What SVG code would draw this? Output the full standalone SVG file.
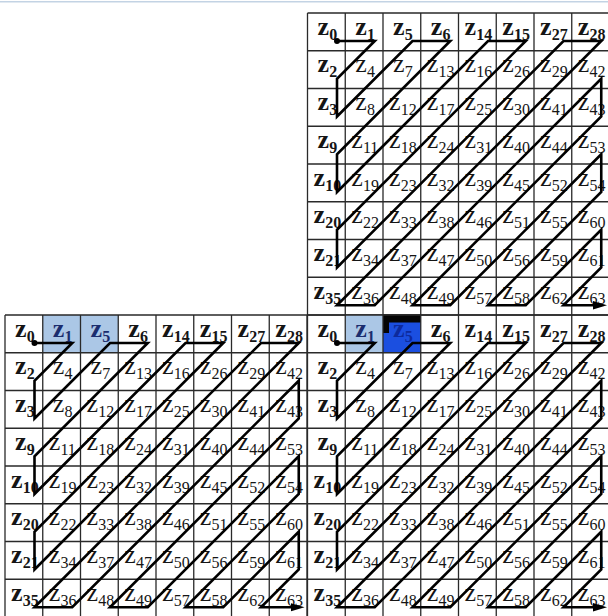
<svg xmlns="http://www.w3.org/2000/svg" width="608" height="616" viewBox="0 0 608 616">
<style>
text{font-family:"Liberation Serif","Times New Roman",serif;font-size:26px;fill:#151515}
text tspan{font-size:16px}
.b{font-weight:bold}
.nv{fill:#1b2d6e}
.dk{fill:#0d2a9c}
.grid{fill:none;stroke:#2a2a2a;stroke-width:1.3}
.zz{fill:none;stroke:#000;stroke-width:2.6;stroke-linejoin:miter;stroke-miterlimit:10}
.hl{fill:#abc7e6}
.hd{fill:#1b4fe0}
</style>
<defs>
<marker id="ah" viewBox="0 0 14 10" refX="6" refY="5" markerWidth="14" markerHeight="10" markerUnits="userSpaceOnUse" orient="auto"><path d="M0,0.8L14,5L0,9.2z" fill="#000"/></marker>
<path id="gl" d="M0,0H302M0,37.75H302M0,75.5H302M0,113.25H302M0,151H302M0,188.75H302M0,226.5H302M0,264.25H302M0,302H302M0,0V302M37.75,0V302M75.5,0V302M113.25,0V302M151,0V302M188.75,0V302M226.5,0V302M264.25,0V302M302,0V302"/>
</defs>
<rect width="608" height="616" fill="#fff"/>
<line x1="0" y1="1.8" x2="608" y2="1.8" stroke="#c3d3e4" stroke-width="1.6"/>

<g id="gridA" transform="translate(307.5,13)">
<g id="A-z0"><text class="b" x="10.1" y="21.5">z<tspan dy="5">0</tspan></text></g>
<g id="A-z1"><text class="b" x="47.85" y="21.5">z<tspan dy="5">1</tspan></text></g>
<g id="A-z5"><text class="b" x="85.6" y="21.5">z<tspan dy="5">5</tspan></text></g>
<g id="A-z6"><text class="b" x="123.35" y="21.5">z<tspan dy="5">6</tspan></text></g>
<g id="A-z14"><text class="b" x="157.1" y="21.5">z<tspan dy="5">14</tspan></text></g>
<g id="A-z15"><text class="b" x="194.85" y="21.5">z<tspan dy="5">15</tspan></text></g>
<g id="A-z27"><text class="b" x="232.6" y="21.5">z<tspan dy="5">27</tspan></text></g>
<g id="A-z28"><text class="b" x="270.35" y="21.5">z<tspan dy="5">28</tspan></text></g>
<g id="A-z2"><text class="b" x="10.1" y="59.25">z<tspan dy="5">2</tspan></text></g>
<g id="A-z4"><text x="47.85" y="59.25">z<tspan dy="5">4</tspan></text></g>
<g id="A-z7"><text x="85.6" y="59.25">z<tspan dy="5">7</tspan></text></g>
<g id="A-z13"><text x="119.35" y="59.25">z<tspan dy="5">13</tspan></text></g>
<g id="A-z16"><text x="157.1" y="59.25">z<tspan dy="5">16</tspan></text></g>
<g id="A-z26"><text x="194.85" y="59.25">z<tspan dy="5">26</tspan></text></g>
<g id="A-z29"><text x="232.6" y="59.25">z<tspan dy="5">29</tspan></text></g>
<g id="A-z42"><text x="270.35" y="59.25">z<tspan dy="5">42</tspan></text></g>
<g id="A-z3"><text class="b" x="10.1" y="97">z<tspan dy="5">3</tspan></text></g>
<g id="A-z8"><text x="47.85" y="97">z<tspan dy="5">8</tspan></text></g>
<g id="A-z12"><text x="81.6" y="97">z<tspan dy="5">12</tspan></text></g>
<g id="A-z17"><text x="119.35" y="97">z<tspan dy="5">17</tspan></text></g>
<g id="A-z25"><text x="157.1" y="97">z<tspan dy="5">25</tspan></text></g>
<g id="A-z30"><text x="194.85" y="97">z<tspan dy="5">30</tspan></text></g>
<g id="A-z41"><text x="232.6" y="97">z<tspan dy="5">41</tspan></text></g>
<g id="A-z43"><text x="270.35" y="97">z<tspan dy="5">43</tspan></text></g>
<g id="A-z9"><text class="b" x="10.1" y="134.75">z<tspan dy="5">9</tspan></text></g>
<g id="A-z11"><text x="43.85" y="134.75">z<tspan dy="5">11</tspan></text></g>
<g id="A-z18"><text x="81.6" y="134.75">z<tspan dy="5">18</tspan></text></g>
<g id="A-z24"><text x="119.35" y="134.75">z<tspan dy="5">24</tspan></text></g>
<g id="A-z31"><text x="157.1" y="134.75">z<tspan dy="5">31</tspan></text></g>
<g id="A-z40"><text x="194.85" y="134.75">z<tspan dy="5">40</tspan></text></g>
<g id="A-z44"><text x="232.6" y="134.75">z<tspan dy="5">44</tspan></text></g>
<g id="A-z53"><text x="270.35" y="134.75">z<tspan dy="5">53</tspan></text></g>
<g id="A-z10"><text class="b" x="6.1" y="172.5">z<tspan dy="5">10</tspan></text></g>
<g id="A-z19"><text x="43.85" y="172.5">z<tspan dy="5">19</tspan></text></g>
<g id="A-z23"><text x="81.6" y="172.5">z<tspan dy="5">23</tspan></text></g>
<g id="A-z32"><text x="119.35" y="172.5">z<tspan dy="5">32</tspan></text></g>
<g id="A-z39"><text x="157.1" y="172.5">z<tspan dy="5">39</tspan></text></g>
<g id="A-z45"><text x="194.85" y="172.5">z<tspan dy="5">45</tspan></text></g>
<g id="A-z52"><text x="232.6" y="172.5">z<tspan dy="5">52</tspan></text></g>
<g id="A-z54"><text x="270.35" y="172.5">z<tspan dy="5">54</tspan></text></g>
<g id="A-z20"><text class="b" x="6.1" y="210.25">z<tspan dy="5">20</tspan></text></g>
<g id="A-z22"><text x="43.85" y="210.25">z<tspan dy="5">22</tspan></text></g>
<g id="A-z33"><text x="81.6" y="210.25">z<tspan dy="5">33</tspan></text></g>
<g id="A-z38"><text x="119.35" y="210.25">z<tspan dy="5">38</tspan></text></g>
<g id="A-z46"><text x="157.1" y="210.25">z<tspan dy="5">46</tspan></text></g>
<g id="A-z51"><text x="194.85" y="210.25">z<tspan dy="5">51</tspan></text></g>
<g id="A-z55"><text x="232.6" y="210.25">z<tspan dy="5">55</tspan></text></g>
<g id="A-z60"><text x="270.35" y="210.25">z<tspan dy="5">60</tspan></text></g>
<g id="A-z21"><text class="b" x="6.1" y="248">z<tspan dy="5">21</tspan></text></g>
<g id="A-z34"><text x="43.85" y="248">z<tspan dy="5">34</tspan></text></g>
<g id="A-z37"><text x="81.6" y="248">z<tspan dy="5">37</tspan></text></g>
<g id="A-z47"><text x="119.35" y="248">z<tspan dy="5">47</tspan></text></g>
<g id="A-z50"><text x="157.1" y="248">z<tspan dy="5">50</tspan></text></g>
<g id="A-z56"><text x="194.85" y="248">z<tspan dy="5">56</tspan></text></g>
<g id="A-z59"><text x="232.6" y="248">z<tspan dy="5">59</tspan></text></g>
<g id="A-z61"><text x="270.35" y="248">z<tspan dy="5">61</tspan></text></g>
<g id="A-z35"><text class="b" x="6.1" y="285.75">z<tspan dy="5">35</tspan></text></g>
<g id="A-z36"><text x="43.85" y="285.75">z<tspan dy="5">36</tspan></text></g>
<g id="A-z48"><text x="81.6" y="285.75">z<tspan dy="5">48</tspan></text></g>
<g id="A-z49"><text x="119.35" y="285.75">z<tspan dy="5">49</tspan></text></g>
<g id="A-z57"><text x="157.1" y="285.75">z<tspan dy="5">57</tspan></text></g>
<g id="A-z58"><text x="194.85" y="285.75">z<tspan dy="5">58</tspan></text></g>
<g id="A-z62"><text x="232.6" y="285.75">z<tspan dy="5">62</tspan></text></g>
<g id="A-z63"><text x="270.35" y="285.75">z<tspan dy="5">63</tspan></text></g>
<use href="#gl" class="grid"/>
</g>

<g id="gridB" transform="translate(5,315)">
<g id="B-z0"><text class="b" x="10.1" y="21.5">z<tspan dy="5">0</tspan></text></g>
<g id="B-z1"><rect class="hl" x="37.75" y="0" width="37.75" height="37.75"/><text class="b nv" x="47.85" y="21.5">z<tspan dy="5">1</tspan></text></g>
<g id="B-z5"><rect class="hl" x="75.5" y="0" width="37.75" height="37.75"/><text class="b nv" x="85.6" y="21.5">z<tspan dy="5">5</tspan></text></g>
<g id="B-z6"><text class="b" x="123.35" y="21.5">z<tspan dy="5">6</tspan></text></g>
<g id="B-z14"><text class="b" x="157.1" y="21.5">z<tspan dy="5">14</tspan></text></g>
<g id="B-z15"><text class="b" x="194.85" y="21.5">z<tspan dy="5">15</tspan></text></g>
<g id="B-z27"><text class="b" x="232.6" y="21.5">z<tspan dy="5">27</tspan></text></g>
<g id="B-z28"><text class="b" x="270.35" y="21.5">z<tspan dy="5">28</tspan></text></g>
<g id="B-z2"><text class="b" x="10.1" y="59.25">z<tspan dy="5">2</tspan></text></g>
<g id="B-z4"><text x="47.85" y="59.25">z<tspan dy="5">4</tspan></text></g>
<g id="B-z7"><text x="85.6" y="59.25">z<tspan dy="5">7</tspan></text></g>
<g id="B-z13"><text x="119.35" y="59.25">z<tspan dy="5">13</tspan></text></g>
<g id="B-z16"><text x="157.1" y="59.25">z<tspan dy="5">16</tspan></text></g>
<g id="B-z26"><text x="194.85" y="59.25">z<tspan dy="5">26</tspan></text></g>
<g id="B-z29"><text x="232.6" y="59.25">z<tspan dy="5">29</tspan></text></g>
<g id="B-z42"><text x="270.35" y="59.25">z<tspan dy="5">42</tspan></text></g>
<g id="B-z3"><text class="b" x="10.1" y="97">z<tspan dy="5">3</tspan></text></g>
<g id="B-z8"><text x="47.85" y="97">z<tspan dy="5">8</tspan></text></g>
<g id="B-z12"><text x="81.6" y="97">z<tspan dy="5">12</tspan></text></g>
<g id="B-z17"><text x="119.35" y="97">z<tspan dy="5">17</tspan></text></g>
<g id="B-z25"><text x="157.1" y="97">z<tspan dy="5">25</tspan></text></g>
<g id="B-z30"><text x="194.85" y="97">z<tspan dy="5">30</tspan></text></g>
<g id="B-z41"><text x="232.6" y="97">z<tspan dy="5">41</tspan></text></g>
<g id="B-z43"><text x="270.35" y="97">z<tspan dy="5">43</tspan></text></g>
<g id="B-z9"><text class="b" x="10.1" y="134.75">z<tspan dy="5">9</tspan></text></g>
<g id="B-z11"><text x="43.85" y="134.75">z<tspan dy="5">11</tspan></text></g>
<g id="B-z18"><text x="81.6" y="134.75">z<tspan dy="5">18</tspan></text></g>
<g id="B-z24"><text x="119.35" y="134.75">z<tspan dy="5">24</tspan></text></g>
<g id="B-z31"><text x="157.1" y="134.75">z<tspan dy="5">31</tspan></text></g>
<g id="B-z40"><text x="194.85" y="134.75">z<tspan dy="5">40</tspan></text></g>
<g id="B-z44"><text x="232.6" y="134.75">z<tspan dy="5">44</tspan></text></g>
<g id="B-z53"><text x="270.35" y="134.75">z<tspan dy="5">53</tspan></text></g>
<g id="B-z10"><text class="b" x="6.1" y="172.5">z<tspan dy="5">10</tspan></text></g>
<g id="B-z19"><text x="43.85" y="172.5">z<tspan dy="5">19</tspan></text></g>
<g id="B-z23"><text x="81.6" y="172.5">z<tspan dy="5">23</tspan></text></g>
<g id="B-z32"><text x="119.35" y="172.5">z<tspan dy="5">32</tspan></text></g>
<g id="B-z39"><text x="157.1" y="172.5">z<tspan dy="5">39</tspan></text></g>
<g id="B-z45"><text x="194.85" y="172.5">z<tspan dy="5">45</tspan></text></g>
<g id="B-z52"><text x="232.6" y="172.5">z<tspan dy="5">52</tspan></text></g>
<g id="B-z54"><text x="270.35" y="172.5">z<tspan dy="5">54</tspan></text></g>
<g id="B-z20"><text class="b" x="6.1" y="210.25">z<tspan dy="5">20</tspan></text></g>
<g id="B-z22"><text x="43.85" y="210.25">z<tspan dy="5">22</tspan></text></g>
<g id="B-z33"><text x="81.6" y="210.25">z<tspan dy="5">33</tspan></text></g>
<g id="B-z38"><text x="119.35" y="210.25">z<tspan dy="5">38</tspan></text></g>
<g id="B-z46"><text x="157.1" y="210.25">z<tspan dy="5">46</tspan></text></g>
<g id="B-z51"><text x="194.85" y="210.25">z<tspan dy="5">51</tspan></text></g>
<g id="B-z55"><text x="232.6" y="210.25">z<tspan dy="5">55</tspan></text></g>
<g id="B-z60"><text x="270.35" y="210.25">z<tspan dy="5">60</tspan></text></g>
<g id="B-z21"><text class="b" x="6.1" y="248">z<tspan dy="5">21</tspan></text></g>
<g id="B-z34"><text x="43.85" y="248">z<tspan dy="5">34</tspan></text></g>
<g id="B-z37"><text x="81.6" y="248">z<tspan dy="5">37</tspan></text></g>
<g id="B-z47"><text x="119.35" y="248">z<tspan dy="5">47</tspan></text></g>
<g id="B-z50"><text x="157.1" y="248">z<tspan dy="5">50</tspan></text></g>
<g id="B-z56"><text x="194.85" y="248">z<tspan dy="5">56</tspan></text></g>
<g id="B-z59"><text x="232.6" y="248">z<tspan dy="5">59</tspan></text></g>
<g id="B-z61"><text x="270.35" y="248">z<tspan dy="5">61</tspan></text></g>
<g id="B-z35"><text class="b" x="6.1" y="285.75">z<tspan dy="5">35</tspan></text></g>
<g id="B-z36"><text x="43.85" y="285.75">z<tspan dy="5">36</tspan></text></g>
<g id="B-z48"><text x="81.6" y="285.75">z<tspan dy="5">48</tspan></text></g>
<g id="B-z49"><text x="119.35" y="285.75">z<tspan dy="5">49</tspan></text></g>
<g id="B-z57"><text x="157.1" y="285.75">z<tspan dy="5">57</tspan></text></g>
<g id="B-z58"><text x="194.85" y="285.75">z<tspan dy="5">58</tspan></text></g>
<g id="B-z62"><text x="232.6" y="285.75">z<tspan dy="5">62</tspan></text></g>
<g id="B-z63"><text x="270.35" y="285.75">z<tspan dy="5">63</tspan></text></g>
<use href="#gl" class="grid"/>
</g>

<g id="gridC" transform="translate(307.5,315)">
<g id="C-z0"><text class="b" x="10.1" y="21.5">z<tspan dy="5">0</tspan></text></g>
<g id="C-z1"><rect class="hl" x="37.75" y="0" width="37.75" height="37.75"/><text class="b nv" x="47.85" y="21.5">z<tspan dy="5">1</tspan></text></g>
<g id="C-z5"><rect class="hd" x="75.5" y="0" width="37.75" height="37.75"/><path d="M75.5,-0.5H113.25V7.5H81.5V18H75.5z" fill="#050505"/><text class="b dk" x="85.6" y="21.5">z<tspan dy="5">5</tspan></text></g>
<g id="C-z6"><text class="b" x="123.35" y="21.5">z<tspan dy="5">6</tspan></text></g>
<g id="C-z14"><text class="b" x="157.1" y="21.5">z<tspan dy="5">14</tspan></text></g>
<g id="C-z15"><text class="b" x="194.85" y="21.5">z<tspan dy="5">15</tspan></text></g>
<g id="C-z27"><text class="b" x="232.6" y="21.5">z<tspan dy="5">27</tspan></text></g>
<g id="C-z28"><text class="b" x="270.35" y="21.5">z<tspan dy="5">28</tspan></text></g>
<g id="C-z2"><text class="b" x="10.1" y="59.25">z<tspan dy="5">2</tspan></text></g>
<g id="C-z4"><text x="47.85" y="59.25">z<tspan dy="5">4</tspan></text></g>
<g id="C-z7"><text x="85.6" y="59.25">z<tspan dy="5">7</tspan></text></g>
<g id="C-z13"><text x="119.35" y="59.25">z<tspan dy="5">13</tspan></text></g>
<g id="C-z16"><text x="157.1" y="59.25">z<tspan dy="5">16</tspan></text></g>
<g id="C-z26"><text x="194.85" y="59.25">z<tspan dy="5">26</tspan></text></g>
<g id="C-z29"><text x="232.6" y="59.25">z<tspan dy="5">29</tspan></text></g>
<g id="C-z42"><text x="270.35" y="59.25">z<tspan dy="5">42</tspan></text></g>
<g id="C-z3"><text class="b" x="10.1" y="97">z<tspan dy="5">3</tspan></text></g>
<g id="C-z8"><text x="47.85" y="97">z<tspan dy="5">8</tspan></text></g>
<g id="C-z12"><text x="81.6" y="97">z<tspan dy="5">12</tspan></text></g>
<g id="C-z17"><text x="119.35" y="97">z<tspan dy="5">17</tspan></text></g>
<g id="C-z25"><text x="157.1" y="97">z<tspan dy="5">25</tspan></text></g>
<g id="C-z30"><text x="194.85" y="97">z<tspan dy="5">30</tspan></text></g>
<g id="C-z41"><text x="232.6" y="97">z<tspan dy="5">41</tspan></text></g>
<g id="C-z43"><text x="270.35" y="97">z<tspan dy="5">43</tspan></text></g>
<g id="C-z9"><text class="b" x="10.1" y="134.75">z<tspan dy="5">9</tspan></text></g>
<g id="C-z11"><text x="43.85" y="134.75">z<tspan dy="5">11</tspan></text></g>
<g id="C-z18"><text x="81.6" y="134.75">z<tspan dy="5">18</tspan></text></g>
<g id="C-z24"><text x="119.35" y="134.75">z<tspan dy="5">24</tspan></text></g>
<g id="C-z31"><text x="157.1" y="134.75">z<tspan dy="5">31</tspan></text></g>
<g id="C-z40"><text x="194.85" y="134.75">z<tspan dy="5">40</tspan></text></g>
<g id="C-z44"><text x="232.6" y="134.75">z<tspan dy="5">44</tspan></text></g>
<g id="C-z53"><text x="270.35" y="134.75">z<tspan dy="5">53</tspan></text></g>
<g id="C-z10"><text class="b" x="6.1" y="172.5">z<tspan dy="5">10</tspan></text></g>
<g id="C-z19"><text x="43.85" y="172.5">z<tspan dy="5">19</tspan></text></g>
<g id="C-z23"><text x="81.6" y="172.5">z<tspan dy="5">23</tspan></text></g>
<g id="C-z32"><text x="119.35" y="172.5">z<tspan dy="5">32</tspan></text></g>
<g id="C-z39"><text x="157.1" y="172.5">z<tspan dy="5">39</tspan></text></g>
<g id="C-z45"><text x="194.85" y="172.5">z<tspan dy="5">45</tspan></text></g>
<g id="C-z52"><text x="232.6" y="172.5">z<tspan dy="5">52</tspan></text></g>
<g id="C-z54"><text x="270.35" y="172.5">z<tspan dy="5">54</tspan></text></g>
<g id="C-z20"><text class="b" x="6.1" y="210.25">z<tspan dy="5">20</tspan></text></g>
<g id="C-z22"><text x="43.85" y="210.25">z<tspan dy="5">22</tspan></text></g>
<g id="C-z33"><text x="81.6" y="210.25">z<tspan dy="5">33</tspan></text></g>
<g id="C-z38"><text x="119.35" y="210.25">z<tspan dy="5">38</tspan></text></g>
<g id="C-z46"><text x="157.1" y="210.25">z<tspan dy="5">46</tspan></text></g>
<g id="C-z51"><text x="194.85" y="210.25">z<tspan dy="5">51</tspan></text></g>
<g id="C-z55"><text x="232.6" y="210.25">z<tspan dy="5">55</tspan></text></g>
<g id="C-z60"><text x="270.35" y="210.25">z<tspan dy="5">60</tspan></text></g>
<g id="C-z21"><text class="b" x="6.1" y="248">z<tspan dy="5">21</tspan></text></g>
<g id="C-z34"><text x="43.85" y="248">z<tspan dy="5">34</tspan></text></g>
<g id="C-z37"><text x="81.6" y="248">z<tspan dy="5">37</tspan></text></g>
<g id="C-z47"><text x="119.35" y="248">z<tspan dy="5">47</tspan></text></g>
<g id="C-z50"><text x="157.1" y="248">z<tspan dy="5">50</tspan></text></g>
<g id="C-z56"><text x="194.85" y="248">z<tspan dy="5">56</tspan></text></g>
<g id="C-z59"><text x="232.6" y="248">z<tspan dy="5">59</tspan></text></g>
<g id="C-z61"><text x="270.35" y="248">z<tspan dy="5">61</tspan></text></g>
<g id="C-z35"><text class="b" x="6.1" y="285.75">z<tspan dy="5">35</tspan></text></g>
<g id="C-z36"><text x="43.85" y="285.75">z<tspan dy="5">36</tspan></text></g>
<g id="C-z48"><text x="81.6" y="285.75">z<tspan dy="5">48</tspan></text></g>
<g id="C-z49"><text x="119.35" y="285.75">z<tspan dy="5">49</tspan></text></g>
<g id="C-z57"><text x="157.1" y="285.75">z<tspan dy="5">57</tspan></text></g>
<g id="C-z58"><text x="194.85" y="285.75">z<tspan dy="5">58</tspan></text></g>
<g id="C-z62"><text x="232.6" y="285.75">z<tspan dy="5">62</tspan></text></g>
<g id="C-z63"><text x="270.35" y="285.75">z<tspan dy="5">63</tspan></text></g>
<use href="#gl" class="grid"/>
</g>

<g id="connectors">
<g transform="translate(307.5,13)">
<circle cx="29.5" cy="28" r="3"/>
<path class="zz" marker-end="url(#ah)" d="M29.5,28L67.25,28L29.5,65.75L29.5,103.5L105,28L142.75,28L29.5,141.25L29.5,179L180.5,28L218.25,28L29.5,216.75L29.5,254.5L256,28L293.75,28L29.5,292.25L67.25,292.25L293.75,65.75L293.75,103.5L105,292.25L142.75,292.25L293.75,141.25L293.75,179L180.5,292.25L218.25,292.25L293.75,216.75L293.75,254.5L256,292.25L291.5,292.25"/>
</g>
<g transform="translate(5,315)">
<circle cx="29.5" cy="28" r="3"/>
<path class="zz" marker-end="url(#ah)" d="M29.5,28L67.25,28L29.5,65.75L29.5,103.5L105,28L142.75,28L29.5,141.25L29.5,179L180.5,28L218.25,28L29.5,216.75L29.5,254.5L256,28L293.75,28L29.5,292.25L67.25,292.25L293.75,65.75L293.75,103.5L105,292.25L142.75,292.25L293.75,141.25L293.75,179L180.5,292.25L218.25,292.25L293.75,216.75L293.75,254.5L256,292.25L291.5,292.25"/>
</g>
<g transform="translate(307.5,315)">
<circle cx="29.5" cy="28" r="3"/>
<path class="zz" marker-end="url(#ah)" d="M29.5,28L67.25,28L29.5,65.75L29.5,103.5L105,28L142.75,28L29.5,141.25L29.5,179L180.5,28L218.25,28L29.5,216.75L29.5,254.5L256,28L293.75,28L29.5,292.25L67.25,292.25L293.75,65.75L293.75,103.5L105,292.25L142.75,292.25L293.75,141.25L293.75,179L180.5,292.25L218.25,292.25L293.75,216.75L293.75,254.5L256,292.25L291.5,292.25"/>
</g>
</g>
</svg>
